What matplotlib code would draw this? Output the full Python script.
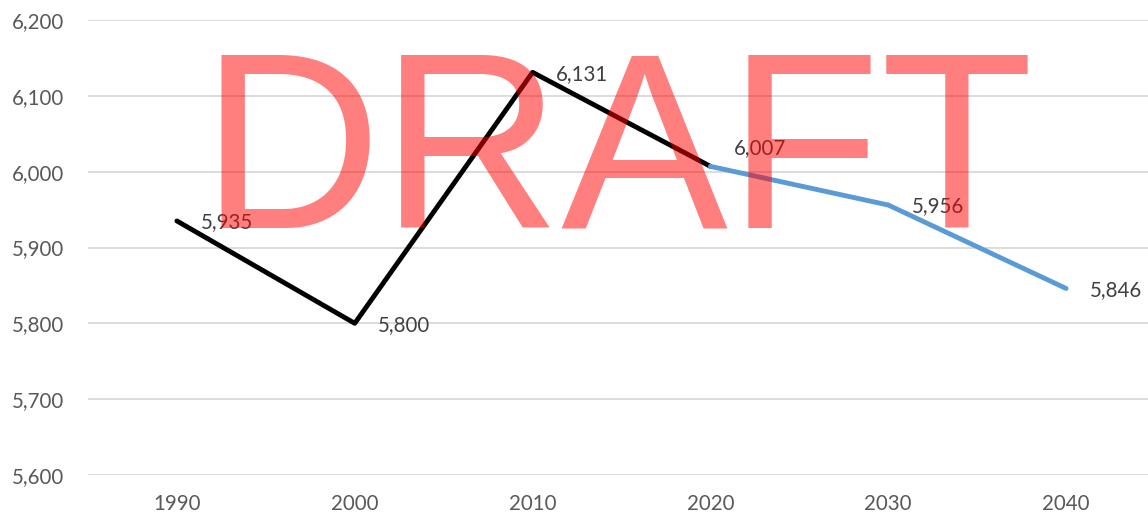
import matplotlib
matplotlib.use("Agg")
import matplotlib.pyplot as plt
from matplotlib.ticker import FuncFormatter

# data
years = ["1990", "2000", "2010", "2020", "2030", "2040"]
actual = [5935, 5800, 6131, 6007]          # 1990-2020
forecast = [6007, 5956, 5846]              # 2020-2040
label_values = [5935, 5800, 6131, 6007, 5956, 5846]
y_ticks = [5600, 5700, 5800, 5900, 6000, 6100, 6200]

plt.rcParams["font.family"] = ["Lato", "DejaVu Sans"]

W, H = 1148, 518
fig = plt.figure(figsize=(W / 100, H / 100), dpi=100)
ax = fig.add_axes([88 / W, 1 - 475 / H, (1155 - 88) / W, (475 - 20) / H])

x_all = list(range(len(years)))
ax.plot(x_all[:4], actual, color="black", lw=3.5, solid_capstyle="round", zorder=3)
ax.plot(x_all[3:], forecast, color="#5B9BD5", lw=3.5, solid_capstyle="round", zorder=3)

# data labels, right of each point
for i, v in enumerate(label_values):
    dy = 14 if years[i] == "2020" else 0
    ax.annotate(f"{v:,}", (i, v), xytext=(17, dy - 1), textcoords="offset points",
                ha="left", va="center", fontsize=14.8, color="#404040", zorder=4)

ax.set_xlim(-0.5, len(years) - 0.5)
ax.set_ylim(y_ticks[0], y_ticks[-1])
ax.set_xticks(x_all)
ax.set_xticklabels(years)
ax.set_yticks(y_ticks)
ax.yaxis.set_major_formatter(FuncFormatter(lambda v, _: f"{int(v):,}"))
ax.tick_params(length=0, labelsize=14.8, colors="#595959")
ax.tick_params(axis="y", pad=17)
ax.tick_params(axis="x", pad=14)
ax.grid(axis="y", color="#D9D9D9", lw=1.3, zorder=0)
ax.set_axisbelow(True)
for s in ax.spines.values():
    s.set_visible(False)

# watermark
fig.text(617 / W, 1 - 163 / H, "DRAFT", family=["Liberation Sans", "DejaVu Sans"],
         fontsize=180, color="red", alpha=0.5, ha="center", va="center", zorder=10)

fig.savefig("out.png", dpi=100, facecolor="white")
